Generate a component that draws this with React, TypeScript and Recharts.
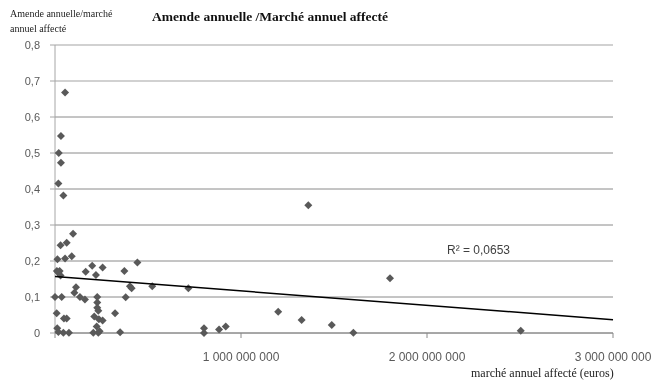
import { ScatterChart, Scatter, XAxis, YAxis, CartesianGrid, ReferenceLine } from "recharts"

// marché annuel affecté (euros)
const marketValues = [
  54e6, 32e6, 20e6, 32e6, 18e6, 45e6, 97e6, 63e6, 30e6, 13e6,
  54e6, 90e6, 10e6, 25e6, 30e6, 18e6, 165e6, 200e6, 220e6, 256e6,
  373e6, 443e6, 523e6, 403e6, 412e6, 717e6, 113e6, 104e6, 134e6, 161e6,
  0, 36e6, 227e6, 227e6, 227e6, 233e6, 211e6, 236e6, 256e6, 323e6,
  380e6, 9e6, 48e6, 63e6, 12e6, 18e6, 45e6, 75e6, 206e6, 233e6,
  224e6, 350e6, 801e6, 801e6, 882e6, 918e6, 1200e6, 1326e6, 1488e6, 1604e6,
  2504e6, 1362e6, 1801e6, 240e6,
]

// amende annuelle / marché annuel affecté
const fineRatios = [
  0.668, 0.547, 0.5, 0.473, 0.415, 0.382, 0.276, 0.251, 0.244, 0.205,
  0.207, 0.213, 0.172, 0.172, 0.16, 0.168, 0.17, 0.187, 0.161, 0.182,
  0.172, 0.196, 0.13, 0.13, 0.124, 0.124, 0.127, 0.112, 0.1, 0.093,
  0.1, 0.1, 0.1, 0.085, 0.07, 0.062, 0.046, 0.038, 0.035, 0.055,
  0.099, 0.055, 0.04, 0.04, 0.013, 0.003, 0.001, 0.001, 0.001, 0.001,
  0.018, 0.002, 0.013, 0, 0.01, 0.018, 0.059, 0.036, 0.022, 0.001,
  0.006, 0.355, 0.152, 0.005,
]

// linear trendline (R² = 0,0653)
const trendX = [0, 3e9]
const trendY = [0.157, 0.037]

const xTicks = [0, 1e9, 2e9, 3e9]
const yTicks = [0, 0.1, 0.2, 0.3, 0.4, 0.5, 0.6, 0.7, 0.8]
const lightRows = [0.7, 0.8]

const points = marketValues.map((x, i) => ({ x, y: fineRatios[i] }))
const trend = trendX.map((x, i) => ({ x, y: trendY[i] }))

const fmtX = (v: number) =>
  v === 0 ? "" : Math.round(v).toString().replace(/\B(?=(\d{3})+(?!\d))/g, " ")
const fmtY = (v: number) => (v === 0 ? "0" : v.toFixed(1).replace(".", ","))

const Diamond = (p: any) => {
  const { cx, cy } = p
  const r = 4
  return (
    <polygon
      points={`${cx},${cy - r} ${cx + r},${cy} ${cx},${cy + r} ${cx - r},${cy}`}
      fill="#595959"
    />
  )
}
const NoDot = () => <g />

const serif = "'Liberation Serif', 'Times New Roman', serif"
const sans = "'Liberation Sans', Arial, sans-serif"

export default function App() {
  return (
    <div style={{ position: "fixed", left: 0, top: 0, width: 662, height: 380 }}>
      <ScatterChart width={662} height={380} margin={{ top: 45, right: 49, left: 0, bottom: 0 }}>
        <CartesianGrid vertical={false} stroke="#8a8a8a" />
        {lightRows.map((t) => (
          <ReferenceLine key={t} y={t} stroke="#d6d6d6" strokeWidth={1.5} />
        ))}
        <XAxis
          type="number"
          dataKey="x"
          domain={[0, 3e9]}
          ticks={xTicks}
          tickFormatter={fmtX}
          stroke="#8a8a8a"
          tickSize={5}
          tickMargin={14}
          height={47}
          tick={{ fill: "#595959", fontSize: 12, fontFamily: sans }}
        />
        <YAxis
          type="number"
          dataKey="y"
          domain={[0, 0.8]}
          ticks={yTicks}
          tickFormatter={fmtY}
          stroke="#a6a6a6"
          tickSize={5}
          tickMargin={10}
          width={55}
          tick={{ fill: "#595959", fontSize: 11, fontFamily: sans }}
        />
        <Scatter data={points} shape={Diamond} isAnimationActive={false} />
        <Scatter
          data={trend}
          line={{ stroke: "#000", strokeWidth: 1.5 }}
          shape={NoDot}
          isAnimationActive={false}
        />
      </ScatterChart>
      <div
        style={{
          position: "absolute", left: 0, top: 9, width: 540, textAlign: "center",
          fontFamily: serif, fontWeight: "bold", fontSize: 13.5, color: "#111",
        }}
      >
        Amende annuelle /Marché annuel affecté
      </div>
      <div
        style={{
          position: "absolute", left: 10, top: 6, fontFamily: serif, fontSize: 10,
          lineHeight: "15px", color: "#222",
        }}
      >
        Amende annuelle/marché
        <br />
        annuel affecté
      </div>
      <div
        style={{
          position: "absolute", left: 471, top: 366, fontFamily: serif, fontSize: 12, color: "#222",
          whiteSpace: "nowrap",
        }}
      >
        marché annuel affecté (euros)
      </div>
      <div
        style={{
          position: "absolute", left: 447, top: 243, fontFamily: sans, fontSize: 12, color: "#404040",
        }}
      >
        R² = 0,0653
      </div>
    </div>
  )
}
